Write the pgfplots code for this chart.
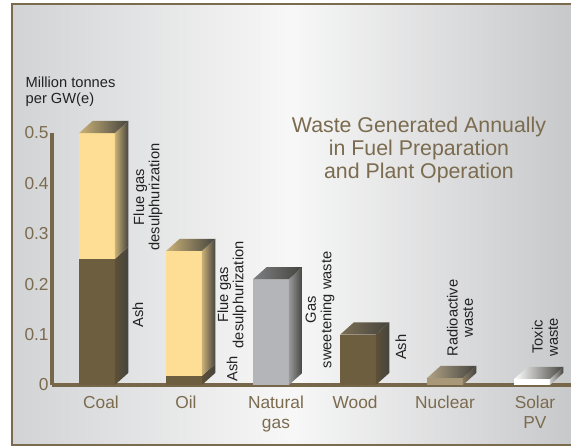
\documentclass[border=0pt]{standalone}
\usepackage{fontspec}
\setmainfont{Liberation Sans}
\usepackage{pgfplots}
\pgfplotsset{compat=1.18}
\definecolor{framec}{HTML}{7A6A4E}
\definecolor{axisc}{HTML}{76664A}
\definecolor{txtc}{HTML}{7B6B4F}
\definecolor{labc}{HTML}{222222}
\definecolor{ashc}{HTML}{6E5E40}
\definecolor{fgdc}{HTML}{FDDE94}
\definecolor{ngc}{HTML}{B4B5B8}
\definecolor{nucc}{HTML}{A89878}
\definecolor{darkc}{HTML}{45443F}
\definecolor{bgside}{HTML}{D2D3D5}

\def\bw{0.205}\def\ddx{0.155}\def\ddy{0.024}
% front face of a bar segment: centre, bottom, top, colour
\newcommand{\bfront}[4]{%
  \pgfmathsetmacro\xl{#1-\bw}\pgfmathsetmacro\xr{#1+\bw}%
  \edef\tmp{\noexpand\addplot[fill=#4,draw=none] coordinates {(\xl,#2) (\xr,#2) (\xr,#3) (\xl,#3)} -- cycle;}\tmp}
% side face: centre, bottom, top, left colour
\newcommand{\bside}[4]{%
  \pgfmathsetmacro\xr{#1+\bw}\pgfmathsetmacro\xs{#1+\bw+\ddx}%
  \pgfmathsetmacro\ya{#2+\ddy}\pgfmathsetmacro\yb{#3+\ddy}%
  \edef\tmp{\noexpand\addplot[left color=#4,right color=darkc,draw=none] coordinates {(\xr,#2) (\xs,\ya) (\xs,\yb) (\xr,#3)} -- cycle;}\tmp}
% top face: centre, top, left colour
\newcommand{\btop}[3]{%
  \pgfmathsetmacro\xl{#1-\bw}\pgfmathsetmacro\xr{#1+\bw}%
  \pgfmathsetmacro\xlb{#1-\bw+\ddx}\pgfmathsetmacro\xrb{#1+\bw+\ddx}\pgfmathsetmacro\yb{#2+\ddy}%
  \edef\tmp{\noexpand\addplot[left color=#3,right color=darkc,draw=none] coordinates {(\xl,#2) (\xr,#2) (\xrb,\yb) (\xlb,\yb)} -- cycle;}\tmp}

\begin{document}
\begin{tikzpicture}[x=0.75pt,y=0.75pt]
\useasboundingbox (0,0) rectangle (571,446);
\shade[left color=bgside, right color=bgside!95!black, middle color=white!97!black] (12,1) rectangle (571,442);
\draw[framec, line width=1.6pt] (571,442) -- (12,442) -- (12,1) -- (571,1);
\node[anchor=west, align=left, text=labc, font=\fontsize{11}{12}\selectfont] at (21,354) {Million tonnes\\per GW(e)};
\node[align=center, text=txtc, font=\fontsize{16}{17.25}\selectfont] at (419,296) {Waste Generated Annually\\in Fuel Preparation\\and Plant Operation};
\begin{axis}[
  at={(39pt,45.75pt)}, anchor=south west,
  scale only axis, width=389.25pt, height=189pt,
  xmin=-0.517, xmax=5.448, ymin=0, ymax=0.5,
  clip=false,
  axis x line=bottom, axis y line=left,
  axis line style={-, axisc, line width=2.4pt},
  major tick length=0pt,
  ytick={0,0.1,0.2,0.3,0.4,0.5},
  yticklabels={0,0.1,0.2,0.3,0.4,0.5},
  xtick={0.046,1.023,2.057,2.966,4.0,5.034},
  xticklabels={Coal,Oil,{Natural\\gas},Wood,Nuclear,{Solar\\PV}},
  /pgf/number format/assume math mode=true,
  tick label style={text=txtc, font=\fontsize{13}{15}\selectfont},
  xticklabel style={align=center, yshift=-5pt},
  yticklabel style={xshift=1pt},
]
% Coal: ash 0.25, flue gas desulphurization 0.25 (total 0.5)
\bfront{0}{0}{0.25}{ashc}
\bside{0}{0}{0.25}{ashc!85!black}
\bfront{0}{0.25}{0.5}{fgdc}
\bside{0}{0.25}{0.5}{fgdc!80!black}
\btop{0}{0.5}{fgdc!80!black}
% Oil: ash 0.018, flue gas desulphurization to 0.266
\bfront{1}{0}{0.018}{ashc}
\bside{1}{0}{0.018}{ashc!85!black}
\bfront{1}{0.018}{0.266}{fgdc}
\bside{1}{0.018}{0.266}{fgdc!80!black}
\btop{1}{0.266}{fgdc!80!black}
% Natural gas: 0.21
\bfront{2}{0}{0.21}{ngc}
\bside{2}{0}{0.21}{ngc!85!black}
\btop{2}{0.21}{ngc!70!black}
% Wood: 0.1
\bfront{3}{0}{0.1}{ashc}
\bside{3}{0}{0.1}{ashc!85!black}
\btop{3}{0.1}{ashc!90!white}
% Nuclear: 0.014
\bfront{4}{0}{0.014}{nucc}
\bside{4}{0}{0.014}{nucc!80!black}
\btop{4}{0.014}{nucc!90!white}
% Solar PV: 0.012
\bfront{5}{0}{0.012}{white}
\bside{5}{0}{0.012}{white!80!black}
\btop{5}{0.012}{white}
\begin{scope}[every node/.style={rotate=90, align=center, text=labc, font=\fontsize{11}{11.5}\selectfont}]
\node at (axis cs:0.586,0.373) {Flue gas\\desulphurization};
\node at (axis cs:0.47,0.139) {Ash};
\node at (axis cs:1.552,0.179) {Flue gas\\desulphurization};
\node at (axis cs:1.552,0.032) {Ash};
\node at (axis cs:2.563,0.149) {Gas\\sweetening waste};
\node at (axis cs:3.494,0.075) {Ash};
\node at (axis cs:4.172,0.133) {Radioactive\\waste};
\node at (axis cs:5.149,0.095) {Toxic\\waste};
\end{scope}
\end{axis}
\end{tikzpicture}
\end{document}
